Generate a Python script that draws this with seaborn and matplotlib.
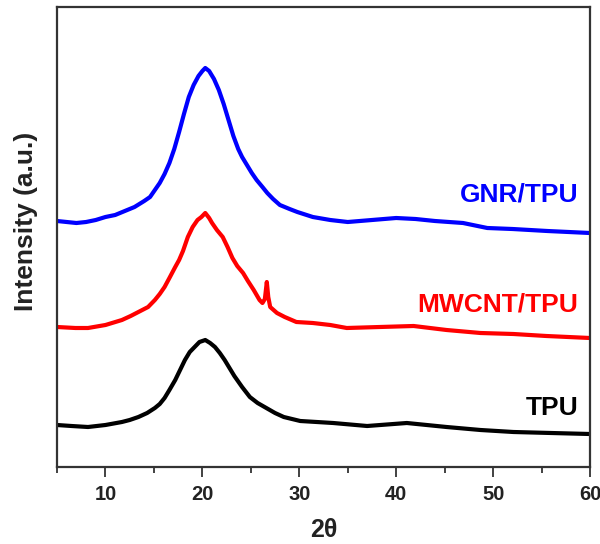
import matplotlib
matplotlib.use("Agg")
import matplotlib.pyplot as plt
from matplotlib.ticker import MultipleLocator
import seaborn as sns
import pandas as pd

# 2-theta (deg) and intensity (a.u., offset stacked)
gnr_x = [5, 6, 7, 8, 9, 10, 11, 12, 13, 14, 14.6, 15.1, 15.6, 16.1, 16.6, 17.1,
         17.6, 18.1, 18.6, 19.1, 19.6, 20.0, 20.3, 20.7, 21.2, 21.7, 22.2, 22.7,
         23.2, 23.7, 24.1, 24.6, 25.1, 25.6, 26.2, 26.7, 27.3, 28, 29, 29.8,
         31.4, 33.2, 35, 37.5, 40, 42, 44, 46.9, 49.4, 52, 55.6, 60]
gnr_y = [246, 245, 244, 245, 247, 250, 252, 256, 260, 266, 270, 277, 284, 293,
         304, 318, 335, 353, 370, 382, 391, 396, 399, 396, 388, 377, 363, 347,
         331, 318, 310, 302, 294, 287, 280, 274, 268, 262, 258, 255, 250, 247,
         245, 247, 249, 248, 246, 244, 239, 238, 236, 234]

mwcnt_x = [5, 6.9, 8.2, 10, 11.7, 12.6, 13.4, 14.4, 15.1, 15.6, 16.1, 16.6,
           17.2, 17.6, 18.0, 18.5, 19.0, 19.5, 19.9, 20.3, 20.7, 21.0, 21.5,
           22.1, 22.6, 23.1, 23.6, 24.2, 24.7, 25.3, 25.9, 26.2, 26.45, 26.65,
           26.8, 27.0, 27.7, 28.5, 29.7, 31.4, 33.2, 34.9, 38.3, 41.8, 45.2,
           48.7, 52.1, 55.5, 60]
mwcnt_y = [140, 139, 139, 142, 147, 151, 155, 160, 167, 173, 180, 189, 200, 207,
           216, 230, 240, 247, 250, 254, 249, 244, 237, 230, 220, 209, 201, 194,
           186, 177, 167, 164, 168, 185, 170, 160, 154, 150, 145, 144, 142, 139,
           140, 141, 137, 134, 133, 131, 129]

tpu_x = [5, 6.5, 8.2, 10, 11.7, 12.5, 13.4, 14.3, 15.1, 15.6, 16.1, 16.6, 17.2,
         17.7, 18.2, 18.7, 19.2, 19.7, 20.3, 20.8, 21.3, 21.8, 22.3, 22.8, 23.3,
         24.1, 24.9, 25.7, 26.6, 27.5, 28.4, 30.1, 33.5, 37.0, 41.1, 45.2, 48.7,
         52.1, 56, 60]
tpu_y = [42, 41, 40, 42, 45, 47, 50, 54, 59, 63, 69, 77, 87, 97, 107, 115, 120,
         125, 127, 124, 120, 114, 107, 99, 91, 80, 70, 64, 59, 54, 50, 46, 44,
         41, 44, 40, 37, 35, 34, 33]

series_names = ["GNR/TPU", "MWCNT/TPU", "TPU"]
series_colors = ["#0000ff", "#ff0000", "#000000"]
x_ticks = [10, 20, 30, 40, 50, 60]

df = pd.concat([
    pd.DataFrame({"x": gnr_x, "y": gnr_y, "s": "GNR/TPU"}),
    pd.DataFrame({"x": mwcnt_x, "y": mwcnt_y, "s": "MWCNT/TPU"}),
    pd.DataFrame({"x": tpu_x, "y": tpu_y, "s": "TPU"}),
])

sns.set_style("white")
plt.rcParams["font.family"] = ["Liberation Sans", "DejaVu Sans"]

fig = plt.figure(figsize=(6.0, 5.44), dpi=100)
ax = fig.add_axes([57 / 600, 1 - 467 / 544, 533 / 600, 460 / 544])

sns.lineplot(data=df, x="x", y="y", hue="s", hue_order=series_names,
             palette=dict(zip(series_names, series_colors)), estimator=None,
             sort=True, linewidth=3.0, legend=False, ax=ax)

ax.set_xlim(5, 60)
ax.set_ylim(0, 460)
ax.set_xticks(x_ticks)
ax.xaxis.set_minor_locator(MultipleLocator(5))
ax.set_yticks([])
ax.tick_params(axis="x", which="major", direction="out", length=7, width=1.3,
               color="#333333", bottom=True, pad=6)
ax.tick_params(axis="x", which="minor", direction="out", length=4, width=1.3,
               color="#333333", bottom=True)
for lab in ax.get_xticklabels():
    lab.set_fontsize(14.5)
    lab.set_fontweight("bold")
    lab.set_color("#222222")

for sp in ax.spines.values():
    sp.set_color("#333333")
    sp.set_linewidth(1.6)

ax.set_xlabel("2θ", fontsize=18, fontweight="bold", labelpad=10, color="#222222")
ax.set_ylabel("Intensity (a.u.)", fontsize=19, fontweight="bold", color="#222222")
ax.yaxis.set_label_coords(-0.036, 0.533)

label_y = [272, 163, 59]
for name, col, yy in zip(series_names, series_colors, label_y):
    ax.text(58.8, yy, name, color=col, fontsize=19, fontweight="bold",
            ha="right", va="center")

fig.savefig("out.png", dpi=100)
